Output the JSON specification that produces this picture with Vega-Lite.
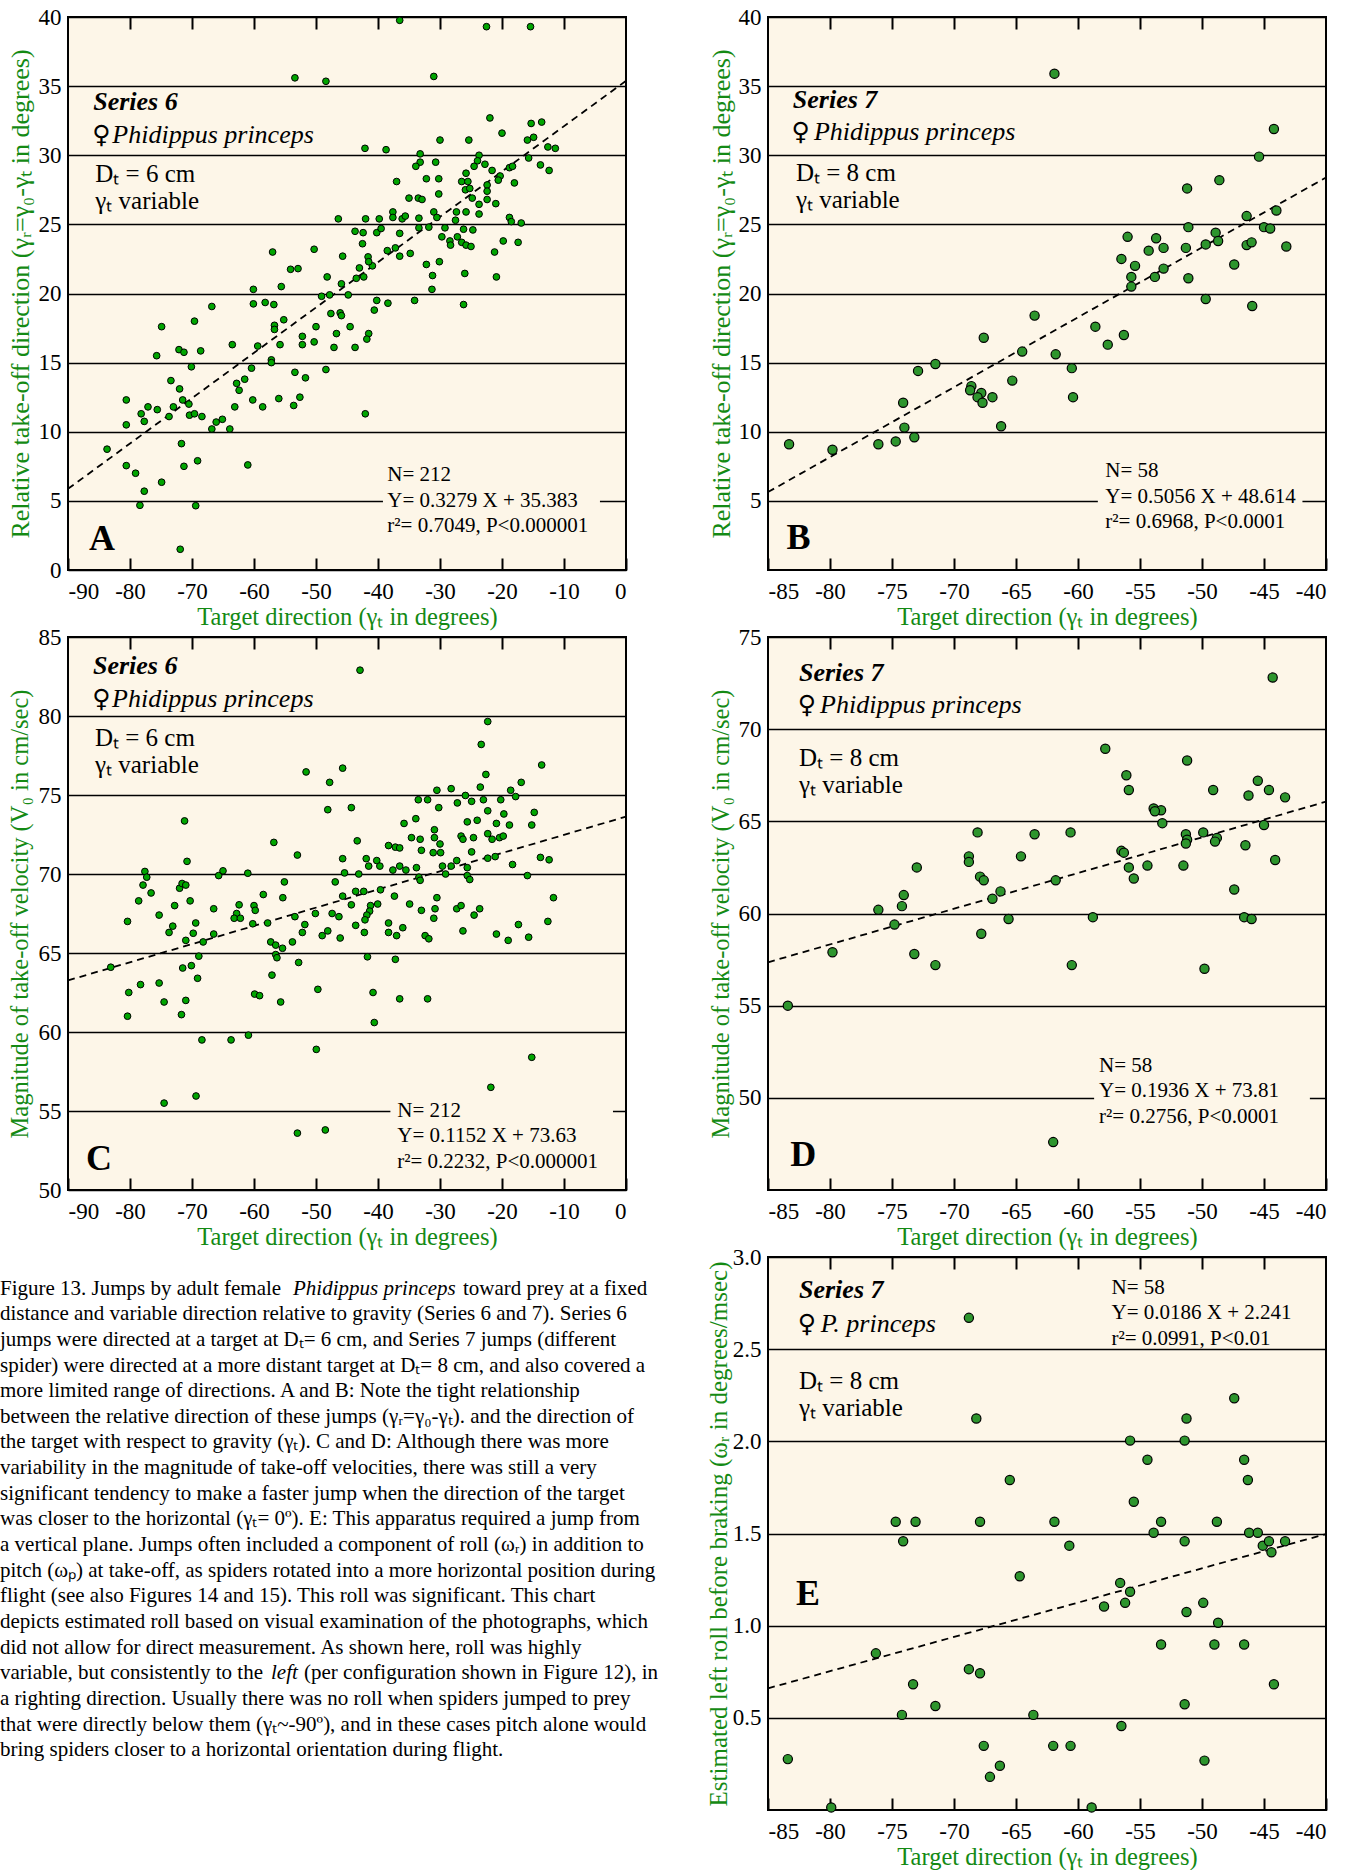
{
"$schema": "https://vega.github.io/schema/vega-lite/v6.json",
"background": "white",
"padding": {"left": 0, "top": 5, "right": 0, "bottom": 0},
"columns": 2,
"spacing": {"row": 67, "column": 142},
"bounds": "flush",
"config": {
 "view": {"stroke": "black", "strokeWidth": 2, "fill": "#FDF6E8"},
 "font": "Liberation Serif",
 "scale": {"zero": false},
 "axis": {"labelFont": "Liberation Serif", "labelFontSize": 23, "labelColor": "black", "labelOverlap": false, "titleFont": "Liberation Serif", "titleFontSize": 24.5, "titleColor": "#148A14", "titleFontWeight": "normal", "domain": false, "grid": false, "ticks": false, "labelPadding": 7},
 "text": {"font": "Liberation Serif", "color": "black"}
},
"datasets": {
 "A": [{"x":-53.4,"y":35.6},{"x":-48.4,"y":35.35},{"x":-46.4,"y":25.4},{"x":-57.0,"y":23.0},{"x":-50.3,"y":23.2},{"x":-45.7,"y":22.7},{"x":-54.1,"y":21.75},{"x":-52.9,"y":21.8},{"x":-48.2,"y":21.2},{"x":-45.9,"y":20.7},{"x":-55.6,"y":20.5},{"x":-60.1,"y":20.3},{"x":-60.1,"y":19.25},{"x":-58.2,"y":19.35},{"x":-56.8,"y":19.2},{"x":-49.1,"y":19.8},{"x":-47.8,"y":19.9},{"x":-44.8,"y":19.9},{"x":-66.8,"y":19.06},{"x":-69.6,"y":18.0},{"x":-74.9,"y":17.6},{"x":-56.7,"y":17.7},{"x":-56.7,"y":17.4},{"x":-55.2,"y":18.1},{"x":-47.6,"y":18.55},{"x":-46.1,"y":18.6},{"x":-45.9,"y":18.4},{"x":-50.0,"y":17.6},{"x":-46.7,"y":17.1},{"x":-44.5,"y":17.6},{"x":-52.2,"y":16.9},{"x":-52.2,"y":16.3},{"x":-50.3,"y":16.5},{"x":-55.8,"y":16.3},{"x":-59.4,"y":16.2},{"x":-63.5,"y":16.3},{"x":-47.1,"y":16.1},{"x":-72.1,"y":15.94},{"x":-71.3,"y":15.75},{"x":-68.6,"y":15.85},{"x":-75.7,"y":15.5},{"x":-70.1,"y":14.7},{"x":-60.4,"y":14.6},{"x":-57.2,"y":15.2},{"x":-57.2,"y":15.0},{"x":-53.4,"y":14.3},{"x":-51.7,"y":13.9},{"x":-48.4,"y":14.5},{"x":-73.4,"y":13.7},{"x":-72.0,"y":13.1},{"x":-62.8,"y":13.5},{"x":-61.5,"y":13.8},{"x":-62.4,"y":13.0},{"x":-80.6,"y":12.3},{"x":-77.1,"y":11.8},{"x":-75.6,"y":11.6},{"x":-73.0,"y":11.8},{"x":-71.5,"y":12.3},{"x":-70.5,"y":12.0},{"x":-73.7,"y":11.1},{"x":-78.2,"y":11.3},{"x":-77.7,"y":10.75},{"x":-80.6,"y":10.5},{"x":-70.4,"y":11.2},{"x":-69.6,"y":11.3},{"x":-68.4,"y":11.1},{"x":-66.1,"y":10.7},{"x":-65.1,"y":10.9},{"x":-66.8,"y":10.2},{"x":-63.9,"y":10.2},{"x":-63.1,"y":11.8},{"x":-60.2,"y":12.3},{"x":-58.6,"y":11.8},{"x":-56.0,"y":12.4},{"x":-53.6,"y":11.9},{"x":-52.6,"y":12.5},{"x":-83.7,"y":8.74},{"x":-80.6,"y":7.55},{"x":-79.1,"y":7.0},{"x":-77.7,"y":5.7},{"x":-78.4,"y":4.68},{"x":-74.9,"y":6.35},{"x":-71.7,"y":9.14},{"x":-71.3,"y":7.5},{"x":-69.1,"y":7.9},{"x":-69.4,"y":4.65},{"x":-71.9,"y":1.5},{"x":-61.0,"y":7.6},
 {"x":-36.5,"y":39.76},{"x":-22.5,"y":39.3},{"x":-15.4,"y":39.3},{"x":-31.0,"y":35.7},{"x":-21.95,"y":32.7},{"x":-15.3,"y":32.3},{"x":-13.6,"y":32.4},{"x":-20.0,"y":31.6},{"x":-30.0,"y":31.1},{"x":-25.35,"y":31.1},{"x":-15.9,"y":31.1},{"x":-14.9,"y":31.3},{"x":-42.1,"y":30.5},{"x":-38.7,"y":30.4},{"x":-12.6,"y":30.6},{"x":-11.4,"y":30.5},{"x":-33.2,"y":30.1},{"x":-33.2,"y":29.5},{"x":-33.9,"y":29.2},{"x":-30.7,"y":29.5},{"x":-23.7,"y":30.0},{"x":-23.95,"y":29.6},{"x":-22.75,"y":29.35},{"x":-24.5,"y":29.2},{"x":-21.6,"y":28.9},{"x":-20.3,"y":28.5},{"x":-20.6,"y":28.2},{"x":-18.8,"y":29.1},{"x":-18.3,"y":29.2},{"x":-15.7,"y":29.8},{"x":-13.8,"y":29.3},{"x":-12.4,"y":28.9},{"x":-18.0,"y":28.0},{"x":-37.0,"y":28.1},{"x":-32.2,"y":28.3},{"x":-30.2,"y":28.3},{"x":-26.5,"y":28.1},{"x":-25.8,"y":28.7},{"x":-25.5,"y":28.1},{"x":-25.9,"y":27.5},{"x":-25.2,"y":27.6},{"x":-22.4,"y":27.85},{"x":-22.4,"y":27.4},{"x":-22.4,"y":26.8},{"x":-24.8,"y":26.9},{"x":-23.7,"y":26.45},{"x":-21.0,"y":26.5},{"x":-30.2,"y":27.2},{"x":-35.0,"y":26.9},{"x":-33.5,"y":26.9},{"x":-32.9,"y":26.8},{"x":-37.6,"y":25.9},{"x":-37.6,"y":25.5},{"x":-36.1,"y":25.4},{"x":-35.6,"y":25.6},{"x":-33.4,"y":25.45},{"x":-31.0,"y":25.9},{"x":-30.5,"y":25.5},{"x":-27.35,"y":25.9},{"x":-25.8,"y":25.9},{"x":-23.7,"y":25.75},{"x":-18.8,"y":25.5},{"x":-18.5,"y":25.2},{"x":-16.9,"y":25.1},{"x":-42.0,"y":25.4},{"x":-39.8,"y":25.4},{"x":-43.7,"y":24.5},{"x":-42.4,"y":24.4},{"x":-40.2,"y":24.4},{"x":-39.5,"y":24.7},{"x":-42.5,"y":23.6},{"x":-36.5,"y":24.35},{"x":-33.4,"y":24.75},{"x":-31.8,"y":24.8},{"x":-29.2,"y":24.75},{"x":-27.5,"y":25.3},{"x":-26.2,"y":24.65},{"x":-24.7,"y":24.6},{"x":-29.7,"y":24.1},{"x":-28.4,"y":23.8},{"x":-28.3,"y":23.5},{"x":-27.2,"y":24.1},{"x":-26.5,"y":23.7},{"x":-25.8,"y":23.5},{"x":-25.0,"y":23.4},{"x":-21.2,"y":23.0},{"x":-19.8,"y":23.8},{"x":-17.4,"y":23.7},{"x":-41.6,"y":22.65},{"x":-40.9,"y":22.0},{"x":-41.5,"y":22.3},{"x":-43.0,"y":21.85},{"x":-42.3,"y":21.2},{"x":-43.5,"y":21.1},{"x":-38.5,"y":23.1},{"x":-37.2,"y":23.3},{"x":-36.5,"y":22.7},{"x":-34.8,"y":22.9},{"x":-32.2,"y":22.1},{"x":-30.1,"y":22.3},{"x":-31.2,"y":21.3},{"x":-31.3,"y":20.3},{"x":-26.0,"y":21.45},{"x":-20.9,"y":21.2},{"x":-40.2,"y":19.5},{"x":-38.4,"y":19.3},{"x":-34.1,"y":19.5},{"x":-40.6,"y":18.8},{"x":-41.5,"y":17.1},{"x":-41.8,"y":16.7},{"x":-43.7,"y":16.1},{"x":-26.2,"y":19.2},{"x":-42.05,"y":11.3}],
 "B": [{"x":-61.9,"y":35.9},{"x":-44.2,"y":31.9},{"x":-45.4,"y":29.9},{"x":-48.6,"y":28.2},{"x":-51.2,"y":27.6},{"x":-44.0,"y":26.0},{"x":-46.4,"y":25.6},{"x":-45.0,"y":24.8},{"x":-44.5,"y":24.7},{"x":-51.1,"y":24.8},{"x":-48.9,"y":24.4},{"x":-48.7,"y":23.8},{"x":-49.7,"y":23.55},{"x":-46.4,"y":23.5},{"x":-46.0,"y":23.7},{"x":-43.2,"y":23.4},{"x":-51.3,"y":23.3},{"x":-56.0,"y":24.1},{"x":-53.7,"y":24.0},{"x":-54.3,"y":23.1},{"x":-53.1,"y":23.3},{"x":-56.5,"y":22.5},{"x":-55.4,"y":22.0},{"x":-55.7,"y":21.2},{"x":-53.8,"y":21.2},{"x":-53.1,"y":21.8},{"x":-55.7,"y":20.5},{"x":-51.1,"y":21.1},{"x":-47.4,"y":22.1},{"x":-49.7,"y":19.6},{"x":-45.95,"y":19.1},{"x":-63.5,"y":18.4},{"x":-58.6,"y":17.6},{"x":-56.3,"y":17.0},{"x":-57.6,"y":16.3},{"x":-67.6,"y":16.8},{"x":-64.5,"y":15.8},{"x":-61.8,"y":15.6},{"x":-60.5,"y":14.6},{"x":-60.4,"y":12.5},{"x":-65.3,"y":13.7},{"x":-71.5,"y":14.9},{"x":-72.9,"y":14.4},{"x":-74.1,"y":12.1},{"x":-68.6,"y":13.3},{"x":-68.7,"y":13.0},{"x":-67.8,"y":12.8},{"x":-68.1,"y":12.5},{"x":-67.7,"y":12.1},{"x":-66.9,"y":12.5},{"x":-66.2,"y":10.4},{"x":-74.0,"y":10.3},{"x":-73.2,"y":9.6},{"x":-74.7,"y":9.3},{"x":-76.1,"y":9.1},{"x":-79.8,"y":8.7},{"x":-83.3,"y":9.1}],
 "C": [{"x":-51.6,"y":76.46},{"x":-45.7,"y":76.7},{"x":-47.8,"y":75.8},{"x":-48.1,"y":74.07},{"x":-71.2,"y":73.36},{"x":-56.8,"y":72.0},{"x":-53.0,"y":71.2},{"x":-45.7,"y":70.97},{"x":-70.8,"y":70.8},{"x":-77.6,"y":70.16},{"x":-77.3,"y":69.8},{"x":-77.9,"y":69.3},{"x":-78.6,"y":68.3},{"x":-76.6,"y":68.8},{"x":-80.4,"y":67.0},{"x":-75.3,"y":67.4},{"x":-73.1,"y":66.7},{"x":-73.7,"y":66.3},{"x":-72.8,"y":68.0},{"x":-72.0,"y":69.1},{"x":-71.6,"y":69.4},{"x":-71.0,"y":69.3},{"x":-70.3,"y":68.3},{"x":-69.4,"y":66.9},{"x":-69.8,"y":66.25},{"x":-71.0,"y":65.8},{"x":-68.2,"y":65.7},{"x":-68.9,"y":64.8},{"x":-66.5,"y":67.8},{"x":-66.5,"y":66.2},{"x":-65.7,"y":69.9},{"x":-65.0,"y":70.2},{"x":-61.0,"y":70.05},{"x":-62.4,"y":68.05},{"x":-62.8,"y":67.5},{"x":-63.2,"y":67.2},{"x":-62.2,"y":67.2},{"x":-60.0,"y":68.0},{"x":-59.8,"y":67.7},{"x":-60.2,"y":66.85},{"x":-58.5,"y":68.7},{"x":-57.8,"y":66.9},{"x":-55.1,"y":69.5},{"x":-55.35,"y":68.5},{"x":-57.3,"y":65.7},{"x":-56.5,"y":65.5},{"x":-56.5,"y":64.9},{"x":-56.3,"y":64.7},{"x":-55.4,"y":65.3},{"x":-53.8,"y":65.7},{"x":-53.4,"y":67.3},{"x":-51.8,"y":66.8},{"x":-52.2,"y":66.3},{"x":-52.8,"y":64.4},{"x":-57.1,"y":63.6},{"x":-50.1,"y":67.5},{"x":-49.0,"y":66.1},{"x":-48.1,"y":66.4},{"x":-47.4,"y":67.5},{"x":-46.3,"y":67.3},{"x":-46.1,"y":65.95},{"x":-46.9,"y":69.5},{"x":-45.7,"y":68.6},{"x":-45.4,"y":70.07},{"x":-83.1,"y":64.1},{"x":-80.2,"y":62.5},{"x":-78.3,"y":63.0},{"x":-75.3,"y":63.1},{"x":-80.4,"y":61.0},{"x":-74.5,"y":61.9},{"x":-71.5,"y":64.05},{"x":-70.1,"y":64.2},{"x":-69.1,"y":63.4},{"x":-71.0,"y":62.0},{"x":-71.7,"y":61.1},{"x":-59.9,"y":62.4},{"x":-59.1,"y":62.3},{"x":-55.7,"y":61.9},{"x":-49.7,"y":62.7},{"x":-68.4,"y":59.5},{"x":-63.7,"y":59.5},{"x":-60.9,"y":59.8},{"x":-49.95,"y":58.9},{"x":-74.5,"y":55.5},{"x":-69.35,"y":55.95},{"x":-53.0,"y":53.6},{"x":-48.5,"y":53.8},
 {"x":-42.9,"y":82.9},{"x":-22.3,"y":79.65},{"x":-23.35,"y":78.2},{"x":-13.6,"y":76.9},{"x":-22.6,"y":76.3},{"x":-16.9,"y":75.8},{"x":-30.5,"y":75.3},{"x":-28.2,"y":75.4},{"x":-33.5,"y":74.7},{"x":-32.0,"y":74.7},{"x":-27.2,"y":74.5},{"x":-25.9,"y":74.97},{"x":-24.9,"y":74.6},{"x":-23.5,"y":75.5},{"x":-23.0,"y":74.7},{"x":-20.2,"y":74.7},{"x":-18.6,"y":75.3},{"x":-17.8,"y":74.9},{"x":-44.3,"y":74.2},{"x":-30.2,"y":74.2},{"x":-14.8,"y":73.9},{"x":-22.3,"y":74.0},{"x":-19.7,"y":73.8},{"x":-35.8,"y":73.2},{"x":-33.9,"y":73.5},{"x":-25.6,"y":73.3},{"x":-24.0,"y":73.4},{"x":-20.9,"y":73.2},{"x":-18.8,"y":73.1},{"x":-15.2,"y":73.1},{"x":-43.35,"y":72.1},{"x":-38.3,"y":71.8},{"x":-37.2,"y":71.7},{"x":-36.5,"y":71.65},{"x":-34.6,"y":72.3},{"x":-33.2,"y":72.2},{"x":-33.0,"y":71.5},{"x":-30.9,"y":72.8},{"x":-30.9,"y":72.3},{"x":-31.1,"y":71.35},{"x":-30.0,"y":71.9},{"x":-29.9,"y":71.35},{"x":-26.6,"y":72.4},{"x":-26.3,"y":72.2},{"x":-24.6,"y":72.3},{"x":-24.9,"y":71.4},{"x":-22.3,"y":72.55},{"x":-21.6,"y":72.2},{"x":-20.4,"y":72.3},{"x":-19.8,"y":72.4},{"x":-22.3,"y":71.0},{"x":-21.1,"y":71.1},{"x":-13.8,"y":71.05},{"x":-12.4,"y":70.9},{"x":-41.9,"y":70.97},{"x":-41.5,"y":70.5},{"x":-40.2,"y":70.85},{"x":-39.7,"y":70.5},{"x":-37.6,"y":70.25},{"x":-36.5,"y":70.5},{"x":-35.5,"y":70.25},{"x":-33.8,"y":70.4},{"x":-33.4,"y":69.8},{"x":-33.2,"y":69.6},{"x":-29.6,"y":70.5},{"x":-29.1,"y":70.0},{"x":-28.2,"y":70.5},{"x":-27.3,"y":70.85},{"x":-25.6,"y":70.4},{"x":-25.6,"y":69.9},{"x":-25.2,"y":69.65},{"x":-18.3,"y":70.6},{"x":-15.9,"y":69.9},{"x":-43.1,"y":70.0},{"x":-11.7,"y":68.5},{"x":-43.6,"y":68.9},{"x":-42.3,"y":68.9},{"x":-39.6,"y":69.0},{"x":-37.35,"y":68.6},{"x":-34.9,"y":68.1},{"x":-33.0,"y":67.7},{"x":-30.5,"y":68.5},{"x":-30.8,"y":67.8},{"x":-31.0,"y":67.2},{"x":-27.3,"y":67.8},{"x":-26.6,"y":68.0},{"x":-23.6,"y":67.8},{"x":-24.5,"y":67.4},{"x":-44.3,"y":68.05},{"x":-41.2,"y":68.0},{"x":-40.05,"y":68.1},{"x":-41.35,"y":67.65},{"x":-41.8,"y":67.4},{"x":-42.1,"y":67.1},{"x":-43.6,"y":66.75},{"x":-42.2,"y":66.3},{"x":-38.3,"y":66.9},{"x":-38.3,"y":66.3},{"x":-37.0,"y":66.1},{"x":-36.0,"y":66.6},{"x":-32.4,"y":66.1},{"x":-31.8,"y":65.9},{"x":-26.3,"y":66.4},{"x":-20.9,"y":66.2},{"x":-19.0,"y":65.8},{"x":-17.35,"y":66.8},{"x":-15.7,"y":66.0},{"x":-12.6,"y":67.0},{"x":-41.7,"y":64.76},{"x":-37.2,"y":64.6},{"x":-40.8,"y":62.5},{"x":-36.5,"y":62.1},{"x":-32.0,"y":62.1},{"x":-40.6,"y":60.6},{"x":-15.2,"y":58.4},{"x":-21.8,"y":56.5}],
 "D": [{"x":-44.3,"y":72.8},{"x":-57.8,"y":68.94},{"x":-51.2,"y":68.3},{"x":-56.1,"y":67.5},{"x":-55.9,"y":66.7},{"x":-45.5,"y":67.2},{"x":-44.6,"y":66.7},{"x":-49.1,"y":66.7},{"x":-46.25,"y":66.4},{"x":-43.3,"y":66.3},{"x":-53.9,"y":65.7},{"x":-53.3,"y":65.6},{"x":-53.8,"y":65.55},{"x":-53.2,"y":64.9},{"x":-45.0,"y":64.8},{"x":-49.9,"y":64.4},{"x":-51.3,"y":64.3},{"x":-51.2,"y":64.0},{"x":-51.3,"y":63.8},{"x":-48.8,"y":64.1},{"x":-48.95,"y":63.9},{"x":-46.5,"y":63.7},{"x":-44.1,"y":62.9},{"x":-56.5,"y":63.4},{"x":-56.3,"y":63.3},{"x":-55.9,"y":62.5},{"x":-55.5,"y":61.9},{"x":-54.4,"y":62.6},{"x":-51.5,"y":62.6},{"x":-47.4,"y":61.3},{"x":-46.6,"y":59.8},{"x":-46.0,"y":59.7},{"x":-49.8,"y":57.0},{"x":-58.8,"y":59.8},{"x":-60.5,"y":57.2},{"x":-60.6,"y":64.4},{"x":-61.8,"y":61.8},{"x":-63.5,"y":64.3},{"x":-64.6,"y":63.1},{"x":-66.25,"y":61.2},{"x":-65.6,"y":59.7},{"x":-66.9,"y":60.8},{"x":-68.1,"y":64.4},{"x":-68.8,"y":63.1},{"x":-68.8,"y":62.8},{"x":-67.9,"y":62.0},{"x":-67.6,"y":61.8},{"x":-67.8,"y":58.9},{"x":-73.0,"y":62.5},{"x":-74.05,"y":61.0},{"x":-74.2,"y":60.4},{"x":-76.1,"y":60.2},{"x":-74.8,"y":59.4},{"x":-73.2,"y":57.8},{"x":-71.5,"y":57.2},{"x":-79.8,"y":57.9},{"x":-83.4,"y":55.0},{"x":-62.0,"y":47.6}],
 "E": [{"x":-68.8,"y":2.67},{"x":-68.2,"y":2.124},{"x":-47.4,"y":2.234},{"x":-51.25,"y":2.124},{"x":-55.8,"y":2.004},{"x":-51.4,"y":2.004},{"x":-54.4,"y":1.9},{"x":-46.6,"y":1.9},{"x":-65.5,"y":1.79},{"x":-46.3,"y":1.79},{"x":-55.5,"y":1.672},{"x":-74.7,"y":1.564},{"x":-73.1,"y":1.564},{"x":-67.9,"y":1.564},{"x":-61.9,"y":1.564},{"x":-53.3,"y":1.564},{"x":-48.8,"y":1.564},{"x":-74.1,"y":1.458},{"x":-53.9,"y":1.504},{"x":-51.4,"y":1.458},{"x":-60.7,"y":1.434},{"x":-46.2,"y":1.504},{"x":-45.5,"y":1.504},{"x":-45.1,"y":1.434},{"x":-44.6,"y":1.458},{"x":-44.4,"y":1.398},{"x":-43.3,"y":1.458},{"x":-64.7,"y":1.268},{"x":-56.6,"y":1.232},{"x":-55.8,"y":1.184},{"x":-57.9,"y":1.104},{"x":-56.2,"y":1.124},{"x":-51.25,"y":1.074},{"x":-49.9,"y":1.124},{"x":-48.7,"y":1.016},{"x":-53.3,"y":0.898},{"x":-49.0,"y":0.898},{"x":-46.6,"y":0.898},{"x":-76.3,"y":0.85},{"x":-68.8,"y":0.764},{"x":-67.9,"y":0.742},{"x":-73.3,"y":0.682},{"x":-44.2,"y":0.682},{"x":-71.5,"y":0.564},{"x":-51.4,"y":0.574},{"x":-74.2,"y":0.516},{"x":-63.6,"y":0.516},{"x":-56.5,"y":0.456},{"x":-67.6,"y":0.348},{"x":-62.0,"y":0.348},{"x":-60.6,"y":0.348},{"x":-83.4,"y":0.276},{"x":-49.8,"y":0.268},{"x":-66.3,"y":0.24},{"x":-67.1,"y":0.18},{"x":-79.9,"y":0.014},{"x":-58.9,"y":0.014}],
 "caption": [
  {"line":2,"text":"distance and variable direction relative to gravity (Series 6 and 7).  Series 6"},
  {"line":3,"text":"jumps were directed at a target at Dₜ= 6 cm, and Series 7 jumps (different"},
  {"line":4,"text":"spider) were directed at a more distant target at Dₜ= 8 cm, and also covered a"},
  {"line":5,"text":"more limited range of directions.  A and B:  Note the tight relationship"},
  {"line":6,"text":"between the relative direction of these jumps (γᵣ=γ₀-γₜ). and the direction of"},
  {"line":7,"text":"the target with respect to gravity (γₜ).  C and D:  Although there was more"},
  {"line":8,"text":"variability in the magnitude of take-off velocities, there was still a very"},
  {"line":9,"text":"significant tendency to make a faster jump when the direction of the target"},
  {"line":10,"text":"was closer to the horizontal (γₜ= 0º).  E:  This apparatus required a jump from"},
  {"line":11,"text":"a vertical plane.  Jumps often included a component of roll (ωᵣ) in addition to"},
  {"line":12,"text":"pitch (ωₚ) at take-off, as spiders rotated into a more horizontal position during"},
  {"line":13,"text":"flight (see also Figures 14 and 15).  This roll was significant.  This chart"},
  {"line":14,"text":"depicts estimated roll based on visual examination of the photographs, which"},
  {"line":15,"text":"did not allow for direct measurement.  As shown here, roll was highly"},
  {"line":17,"text":"a righting direction.  Usually there was no roll when spiders jumped to prey"},
  {"line":18,"text":"that were directly below them (γₜ~-90º), and in these cases pitch alone would"},
  {"line":19,"text":"bring spiders closer to a horizontal orientation during flight."}
 ]
},
"concat": [
 {
  "width": 558, "height": 553,
  "resolve": {"axis": {"x": "independent", "y": "independent"}},
  "layer": [
   {"data": {"values": [{}]}, "mark": {"type": "rect", "fill": "#FDF6E8"},
    "encoding": {"x": {"datum": -39.2, "type": "quantitative", "axis": null}, "x2": {"datum": -4.2}, "y": {"datum": 4.3, "type": "quantitative", "axis": null}, "y2": {"datum": 5.7}}},
   {"data": {"values": [{"x": -90, "y": 5.872}, {"x": 0, "y": 35.383}]},
    "mark": {"type": "line", "color": "black", "strokeDash": [7, 5], "strokeWidth": 1.8},
    "encoding": {"x": {"field": "x", "type": "quantitative", "axis": {"orient": "top", "values": [-80,-70,-60,-50,-40,-30,-20,-10], "labels": false, "ticks": true, "tickSize": -12, "tickWidth": 2, "tickColor": "black", "title": null, "grid": false}},
                 "y": {"field": "y", "type": "quantitative", "axis": null}}},
   {"data": {"name": "A"},
    "mark": {"type": "circle", "size": 45, "color": "#00A500", "opacity": 1, "stroke": "black", "strokeWidth": 1},
    "encoding": {
     "x": {"field": "x", "type": "quantitative", "scale": {"domain": [-90, 0], "nice": false, "zero": false},
           "axis": {"values": [-90,-80,-70,-60,-50,-40,-30,-20,-10,0], "ticks": true, "tickSize": -12, "tickWidth": 2, "tickColor": "black", "labelPadding": 22, "labelExpr": "'' + datum.value", "title": "Target direction (γₜ in degrees)", "titlePadding": 2}},
     "y": {"field": "y", "type": "quantitative", "scale": {"domain": [0, 40], "nice": false, "zero": false},
           "axis": {"values": [0,5,10,15,20,25,30,35,40], "grid": true, "gridColor": "black", "gridWidth": 1.5, "gridOpacity": 1, "title": "Relative take-off direction (γᵣ=γ₀-γₜ in degrees)", "titleFontSize": 26, "titlePadding": 5}}}},
   {"data": {"values": [{}]}, "mark": {"type": "text", "text": "Series 6", "fontSize": 26, "fontStyle": "italic", "fontWeight": "bold", "align": "left"},
    "encoding": {"x": {"datum": -85.94, "type": "quantitative", "axis": null}, "y": {"datum": 33.83, "type": "quantitative", "axis": null}}},
   {"data": {"values": [{}]}, "mark": {"type": "text", "text": "♀", "font": "DejaVu Sans", "fontSize": 25, "align": "left"},
    "encoding": {"x": {"datum": -86.1, "type": "quantitative", "axis": null}, "y": {"datum": 31.44, "type": "quantitative", "axis": null}}},
   {"data": {"values": [{}]}, "mark": {"type": "text", "text": "Phidippus princeps", "fontSize": 26, "fontStyle": "italic", "align": "left"},
    "encoding": {"x": {"datum": -82.85, "type": "quantitative", "axis": null}, "y": {"datum": 31.44, "type": "quantitative", "axis": null}}},
   {"data": {"values": [{}]}, "mark": {"type": "text", "text": ["Dₜ = 6 cm", "γₜ variable"], "fontSize": 25, "lineHeight": 27, "align": "left"},
    "encoding": {"x": {"datum": -85.6, "type": "quantitative", "axis": null}, "y": {"datum": 28.64, "type": "quantitative", "axis": null}}},
   {"data": {"values": [{}]}, "mark": {"type": "text", "text": "A", "fontSize": 36, "fontWeight": "bold", "align": "left"},
    "encoding": {"x": {"datum": -86.6, "type": "quantitative", "axis": null}, "y": {"datum": 2.25, "type": "quantitative", "axis": null}}},
   {"data": {"values": [{}]}, "mark": {"type": "text", "text": ["N= 212", "Y= 0.3279 X + 35.383", "r²= 0.7049, P<0.000001"], "fontSize": 21, "lineHeight": 25.5, "align": "left"},
    "encoding": {"x": {"datum": -38.5, "type": "quantitative", "axis": null}, "y": {"datum": 6.87, "type": "quantitative", "axis": null}}}
  ]
 },
 {
  "width": 558, "height": 553,
  "resolve": {"axis": {"x": "independent", "y": "independent"}},
  "layer": [
   {"data": {"values": [{}]}, "mark": {"type": "rect", "fill": "#FDF6E8"},
    "encoding": {"x": {"datum": -58.4, "type": "quantitative", "axis": null}, "x2": {"datum": -41.9}, "y": {"datum": 4.3, "type": "quantitative", "axis": null}, "y2": {"datum": 5.7}}},
   {"data": {"values": [{"x": -85, "y": 5.638}, {"x": -40, "y": 28.39}]},
    "mark": {"type": "line", "color": "black", "strokeDash": [7, 5], "strokeWidth": 1.8},
    "encoding": {"x": {"field": "x", "type": "quantitative", "axis": {"orient": "top", "values": [-80,-75,-70,-65,-60,-55,-50,-45], "labels": false, "ticks": true, "tickSize": -12, "tickWidth": 2, "tickColor": "black", "title": null, "grid": false}},
                 "y": {"field": "y", "type": "quantitative", "axis": null}}},
   {"data": {"name": "B"},
    "mark": {"type": "circle", "size": 85, "color": "#2D952D", "opacity": 1, "stroke": "black", "strokeWidth": 1.2},
    "encoding": {
     "x": {"field": "x", "type": "quantitative", "scale": {"domain": [-85, -40], "nice": false, "zero": false},
           "axis": {"values": [-85,-80,-75,-70,-65,-60,-55,-50,-45,-40], "ticks": true, "tickSize": -12, "tickWidth": 2, "tickColor": "black", "labelPadding": 22, "labelExpr": "'' + datum.value", "title": "Target direction (γₜ in degrees)", "titlePadding": 2}},
     "y": {"field": "y", "type": "quantitative", "scale": {"domain": [0, 40], "nice": false, "zero": false},
           "axis": {"values": [5,10,15,20,25,30,35,40], "grid": true, "gridColor": "black", "gridWidth": 1.5, "gridOpacity": 1, "title": "Relative take-off direction (γᵣ=γ₀-γₜ in degrees)", "titleFontSize": 26, "titlePadding": 4}}}},
   {"data": {"values": [{}]}, "mark": {"type": "text", "text": "Series 7", "fontSize": 26, "fontStyle": "italic", "fontWeight": "bold", "align": "left"},
    "encoding": {"x": {"datum": -83.0, "type": "quantitative", "axis": null}, "y": {"datum": 34.02, "type": "quantitative", "axis": null}}},
   {"data": {"values": [{}]}, "mark": {"type": "text", "text": "♀", "font": "DejaVu Sans", "fontSize": 25, "align": "left"},
    "encoding": {"x": {"datum": -83.1, "type": "quantitative", "axis": null}, "y": {"datum": 31.7, "type": "quantitative", "axis": null}}},
   {"data": {"values": [{}]}, "mark": {"type": "text", "text": "Phidippus princeps", "fontSize": 26, "fontStyle": "italic", "align": "left"},
    "encoding": {"x": {"datum": -81.3, "type": "quantitative", "axis": null}, "y": {"datum": 31.7, "type": "quantitative", "axis": null}}},
   {"data": {"values": [{}]}, "mark": {"type": "text", "text": ["Dₜ = 8 cm", "γₜ variable"], "fontSize": 25, "lineHeight": 27, "align": "left"},
    "encoding": {"x": {"datum": -82.75, "type": "quantitative", "axis": null}, "y": {"datum": 28.75, "type": "quantitative", "axis": null}}},
   {"data": {"values": [{}]}, "mark": {"type": "text", "text": "B", "fontSize": 36, "fontWeight": "bold", "align": "left"},
    "encoding": {"x": {"datum": -83.5, "type": "quantitative", "axis": null}, "y": {"datum": 2.33, "type": "quantitative", "axis": null}}},
   {"data": {"values": [{}]}, "mark": {"type": "text", "text": ["N= 58", "Y= 0.5056 X + 48.614", "r²= 0.6968, P<0.0001"], "fontSize": 21, "lineHeight": 25.5, "align": "left"},
    "encoding": {"x": {"datum": -57.8, "type": "quantitative", "axis": null}, "y": {"datum": 7.13, "type": "quantitative", "axis": null}}}
  ]
 },
 {
  "width": 558, "height": 553,
  "resolve": {"axis": {"x": "independent", "y": "independent"}},
  "layer": [
   {"data": {"values": [{}]}, "mark": {"type": "rect", "fill": "#FDF6E8"},
    "encoding": {"x": {"datum": -38.0, "type": "quantitative", "axis": null}, "x2": {"datum": -2.1}, "y": {"datum": 54.45, "type": "quantitative", "axis": null}, "y2": {"datum": 55.55}}},
   {"data": {"values": [{"x": -90, "y": 63.262}, {"x": 0, "y": 73.63}]},
    "mark": {"type": "line", "color": "black", "strokeDash": [7, 5], "strokeWidth": 1.8},
    "encoding": {"x": {"field": "x", "type": "quantitative", "axis": {"orient": "top", "values": [-80,-70,-60,-50,-40,-30,-20,-10], "labels": false, "ticks": true, "tickSize": -12, "tickWidth": 2, "tickColor": "black", "title": null, "grid": false}},
                 "y": {"field": "y", "type": "quantitative", "axis": null}}},
   {"data": {"name": "C"},
    "mark": {"type": "circle", "size": 45, "color": "#00A500", "opacity": 1, "stroke": "black", "strokeWidth": 1},
    "encoding": {
     "x": {"field": "x", "type": "quantitative", "scale": {"domain": [-90, 0], "nice": false, "zero": false},
           "axis": {"values": [-90,-80,-70,-60,-50,-40,-30,-20,-10,0], "ticks": true, "tickSize": -12, "tickWidth": 2, "tickColor": "black", "labelPadding": 22, "labelExpr": "'' + datum.value", "title": "Target direction (γₜ in degrees)", "titlePadding": 2}},
     "y": {"field": "y", "type": "quantitative", "scale": {"domain": [50, 85], "nice": false, "zero": false},
           "axis": {"values": [50,55,60,65,70,75,80,85], "grid": true, "gridColor": "black", "gridWidth": 1.5, "gridOpacity": 1, "title": "Magnitude of take-off velocity (V₀ in cm/sec)", "titlePadding": 6}}}},
   {"data": {"values": [{}]}, "mark": {"type": "text", "text": "Series 6", "fontSize": 26, "fontStyle": "italic", "fontWeight": "bold", "align": "left"},
    "encoding": {"x": {"datum": -85.97, "type": "quantitative", "axis": null}, "y": {"datum": 83.19, "type": "quantitative", "axis": null}}},
   {"data": {"values": [{}]}, "mark": {"type": "text", "text": "♀", "font": "DejaVu Sans", "fontSize": 25, "align": "left"},
    "encoding": {"x": {"datum": -86.1, "type": "quantitative", "axis": null}, "y": {"datum": 81.08, "type": "quantitative", "axis": null}}},
   {"data": {"values": [{}]}, "mark": {"type": "text", "text": "Phidippus princeps", "fontSize": 26, "fontStyle": "italic", "align": "left"},
    "encoding": {"x": {"datum": -82.9, "type": "quantitative", "axis": null}, "y": {"datum": 81.08, "type": "quantitative", "axis": null}}},
   {"data": {"values": [{}]}, "mark": {"type": "text", "text": ["Dₜ = 6 cm", "γₜ variable"], "fontSize": 25, "lineHeight": 27, "align": "left"},
    "encoding": {"x": {"datum": -85.65, "type": "quantitative", "axis": null}, "y": {"datum": 78.58, "type": "quantitative", "axis": null}}},
   {"data": {"values": [{}]}, "mark": {"type": "text", "text": "C", "fontSize": 36, "fontWeight": "bold", "align": "left"},
    "encoding": {"x": {"datum": -87.1, "type": "quantitative", "axis": null}, "y": {"datum": 51.99, "type": "quantitative", "axis": null}}},
   {"data": {"values": [{}]}, "mark": {"type": "text", "text": ["N= 212", "Y= 0.1152 X + 73.63", "r²= 0.2232, P<0.000001"], "fontSize": 21, "lineHeight": 25.5, "align": "left"},
    "encoding": {"x": {"datum": -36.9, "type": "quantitative", "axis": null}, "y": {"datum": 55.03, "type": "quantitative", "axis": null}}}
  ]
 },
 {
  "width": 558, "height": 553,
  "resolve": {"axis": {"x": "independent", "y": "independent"}},
  "layer": [
   {"data": {"values": [{}]}, "mark": {"type": "rect", "fill": "#FDF6E8"},
    "encoding": {"x": {"datum": -58.7, "type": "quantitative", "axis": null}, "x2": {"datum": -41.3}, "y": {"datum": 49.55, "type": "quantitative", "axis": null}, "y2": {"datum": 50.45}}},
   {"data": {"values": [{"x": -85, "y": 57.354}, {"x": -40, "y": 66.066}]},
    "mark": {"type": "line", "color": "black", "strokeDash": [7, 5], "strokeWidth": 1.8},
    "encoding": {"x": {"field": "x", "type": "quantitative", "axis": {"orient": "top", "values": [-80,-75,-70,-65,-60,-55,-50,-45], "labels": false, "ticks": true, "tickSize": -12, "tickWidth": 2, "tickColor": "black", "title": null, "grid": false}},
                 "y": {"field": "y", "type": "quantitative", "axis": null}}},
   {"data": {"name": "D"},
    "mark": {"type": "circle", "size": 85, "color": "#2D952D", "opacity": 1, "stroke": "black", "strokeWidth": 1.2},
    "encoding": {
     "x": {"field": "x", "type": "quantitative", "scale": {"domain": [-85, -40], "nice": false, "zero": false},
           "axis": {"values": [-85,-80,-75,-70,-65,-60,-55,-50,-45,-40], "ticks": true, "tickSize": -12, "tickWidth": 2, "tickColor": "black", "labelPadding": 22, "labelExpr": "'' + datum.value", "title": "Target direction (γₜ in degrees)", "titlePadding": 2}},
     "y": {"field": "y", "type": "quantitative", "scale": {"domain": [45, 75], "nice": false, "zero": false},
           "axis": {"values": [50,55,60,65,70,75], "grid": true, "gridColor": "black", "gridWidth": 1.5, "gridOpacity": 1, "title": "Magnitude of take-off velocity (V₀ in cm/sec)", "titlePadding": 5}}}},
   {"data": {"values": [{}]}, "mark": {"type": "text", "text": "Series 7", "fontSize": 26, "fontStyle": "italic", "fontWeight": "bold", "align": "left"},
    "encoding": {"x": {"datum": -82.5, "type": "quantitative", "axis": null}, "y": {"datum": 73.06, "type": "quantitative", "axis": null}}},
   {"data": {"values": [{}]}, "mark": {"type": "text", "text": "♀", "font": "DejaVu Sans", "fontSize": 25, "align": "left"},
    "encoding": {"x": {"datum": -82.6, "type": "quantitative", "axis": null}, "y": {"datum": 71.32, "type": "quantitative", "axis": null}}},
   {"data": {"values": [{}]}, "mark": {"type": "text", "text": "Phidippus princeps", "fontSize": 26, "fontStyle": "italic", "align": "left"},
    "encoding": {"x": {"datum": -80.8, "type": "quantitative", "axis": null}, "y": {"datum": 71.32, "type": "quantitative", "axis": null}}},
   {"data": {"values": [{}]}, "mark": {"type": "text", "text": ["Dₜ = 8 cm", "γₜ variable"], "fontSize": 25, "lineHeight": 27, "align": "left"},
    "encoding": {"x": {"datum": -82.5, "type": "quantitative", "axis": null}, "y": {"datum": 68.42, "type": "quantitative", "axis": null}}},
   {"data": {"values": [{}]}, "mark": {"type": "text", "text": "D", "fontSize": 36, "fontWeight": "bold", "align": "left"},
    "encoding": {"x": {"datum": -83.2, "type": "quantitative", "axis": null}, "y": {"datum": 46.92, "type": "quantitative", "axis": null}}},
   {"data": {"values": [{}]}, "mark": {"type": "text", "text": ["N= 58", "Y= 0.1936 X + 73.81", "r²= 0.2756, P<0.0001"], "fontSize": 21, "lineHeight": 25.5, "align": "left"},
    "encoding": {"x": {"datum": -58.3, "type": "quantitative", "axis": null}, "y": {"datum": 51.75, "type": "quantitative", "axis": null}}}
  ]
 },
 {
  "width": 558, "height": 553,
  "view": {"stroke": null, "fill": null},
  "layer": [
   {"data": {"name": "caption"},
    "mark": {"type": "text", "align": "left", "baseline": "middle", "fontSize": 21},
    "encoding": {
     "x": {"datum": 0, "type": "quantitative", "scale": {"domain": [68, 626], "nice": false, "zero": false}, "axis": null},
     "y": {"field": "line", "type": "quantitative", "scale": {"domain": [-0.232, 21.33], "reverse": true, "nice": false, "zero": false}, "axis": null},
     "text": {"field": "text"}}},
   {"data": {"values": [{}]}, "mark": {"type": "text", "align": "left", "baseline": "middle", "fontSize": 21, "text": "Figure 13.  Jumps by adult female"},
    "encoding": {"x": {"datum": 0, "type": "quantitative", "axis": null}, "y": {"datum": 1, "type": "quantitative", "axis": null}}},
   {"data": {"values": [{}]}, "mark": {"type": "text", "align": "left", "baseline": "middle", "fontSize": 21, "fontStyle": "italic", "text": "Phidippus princeps"},
    "encoding": {"x": {"datum": 293, "type": "quantitative", "axis": null}, "y": {"datum": 1, "type": "quantitative", "axis": null}}},
   {"data": {"values": [{}]}, "mark": {"type": "text", "align": "left", "baseline": "middle", "fontSize": 21, "text": "toward prey at a fixed"},
    "encoding": {"x": {"datum": 463, "type": "quantitative", "axis": null}, "y": {"datum": 1, "type": "quantitative", "axis": null}}},
   {"data": {"values": [{}]}, "mark": {"type": "text", "align": "left", "baseline": "middle", "fontSize": 21, "text": "variable, but consistently to the"},
    "encoding": {"x": {"datum": 0, "type": "quantitative", "axis": null}, "y": {"datum": 16, "type": "quantitative", "axis": null}}},
   {"data": {"values": [{}]}, "mark": {"type": "text", "align": "left", "baseline": "middle", "fontSize": 21, "fontStyle": "italic", "text": "left"},
    "encoding": {"x": {"datum": 271, "type": "quantitative", "axis": null}, "y": {"datum": 16, "type": "quantitative", "axis": null}}},
   {"data": {"values": [{}]}, "mark": {"type": "text", "align": "left", "baseline": "middle", "fontSize": 21, "text": "(per configuration shown in Figure 12), in"},
    "encoding": {"x": {"datum": 304, "type": "quantitative", "axis": null}, "y": {"datum": 16, "type": "quantitative", "axis": null}}}
  ]
 },
 {
  "width": 558, "height": 553,
  "resolve": {"axis": {"x": "independent", "y": "independent"}},
  "layer": [
   {"data": {"values": [{"x": -85, "y": 0.66}, {"x": -40, "y": 1.497}]},
    "mark": {"type": "line", "color": "black", "strokeDash": [7, 5], "strokeWidth": 1.8},
    "encoding": {"x": {"field": "x", "type": "quantitative", "axis": {"orient": "top", "values": [-80,-75,-70,-65,-60,-55,-50,-45], "labels": false, "ticks": true, "tickSize": -12, "tickWidth": 2, "tickColor": "black", "title": null, "grid": false}},
                 "y": {"field": "y", "type": "quantitative", "axis": null}}},
   {"data": {"name": "E"},
    "mark": {"type": "circle", "size": 85, "color": "#2D952D", "opacity": 1, "stroke": "black", "strokeWidth": 1.2},
    "encoding": {
     "x": {"field": "x", "type": "quantitative", "scale": {"domain": [-85, -40], "nice": false, "zero": false},
           "axis": {"values": [-85,-80,-75,-70,-65,-60,-55,-50,-45,-40], "ticks": true, "tickSize": -12, "tickWidth": 2, "tickColor": "black", "labelPadding": 22, "labelExpr": "'' + datum.value", "title": "Target direction (γₜ in degrees)", "titlePadding": 2}},
     "y": {"field": "y", "type": "quantitative", "scale": {"domain": [0, 3], "nice": false, "zero": false},
           "axis": {"values": [0.5,1,1.5,2,2.5,3], "format": ".1f", "grid": true, "gridColor": "black", "gridWidth": 1.5, "gridOpacity": 1, "title": "Estimated left roll before braking (ωᵣ in degrees/msec)", "titleFontSize": 25, "titlePadding": 1}}}},
   {"data": {"values": [{}]}, "mark": {"type": "text", "text": "Series 7", "fontSize": 26, "fontStyle": "italic", "fontWeight": "bold", "align": "left"},
    "encoding": {"x": {"datum": -82.5, "type": "quantitative", "axis": null}, "y": {"datum": 2.821, "type": "quantitative", "axis": null}}},
   {"data": {"values": [{}]}, "mark": {"type": "text", "text": "♀", "font": "DejaVu Sans", "fontSize": 25, "align": "left"},
    "encoding": {"x": {"datum": -82.6, "type": "quantitative", "axis": null}, "y": {"datum": 2.637, "type": "quantitative", "axis": null}}},
   {"data": {"values": [{}]}, "mark": {"type": "text", "text": "P. princeps", "fontSize": 26, "fontStyle": "italic", "align": "left"},
    "encoding": {"x": {"datum": -80.74, "type": "quantitative", "axis": null}, "y": {"datum": 2.637, "type": "quantitative", "axis": null}}},
   {"data": {"values": [{}]}, "mark": {"type": "text", "text": ["Dₜ = 8 cm", "γₜ variable"], "fontSize": 25, "lineHeight": 27, "align": "left"},
    "encoding": {"x": {"datum": -82.5, "type": "quantitative", "axis": null}, "y": {"datum": 2.325, "type": "quantitative", "axis": null}}},
   {"data": {"values": [{}]}, "mark": {"type": "text", "text": "E", "fontSize": 36, "fontWeight": "bold", "align": "left"},
    "encoding": {"x": {"datum": -82.75, "type": "quantitative", "axis": null}, "y": {"datum": 1.174, "type": "quantitative", "axis": null}}},
   {"data": {"values": [{}]}, "mark": {"type": "text", "text": ["N= 58", "Y= 0.0186 X + 2.241", "r²= 0.0991, P<0.01"], "fontSize": 21, "lineHeight": 25.5, "align": "left"},
    "encoding": {"x": {"datum": -57.3, "type": "quantitative", "axis": null}, "y": {"datum": 2.834, "type": "quantitative", "axis": null}}}
  ]
 }
]
}
